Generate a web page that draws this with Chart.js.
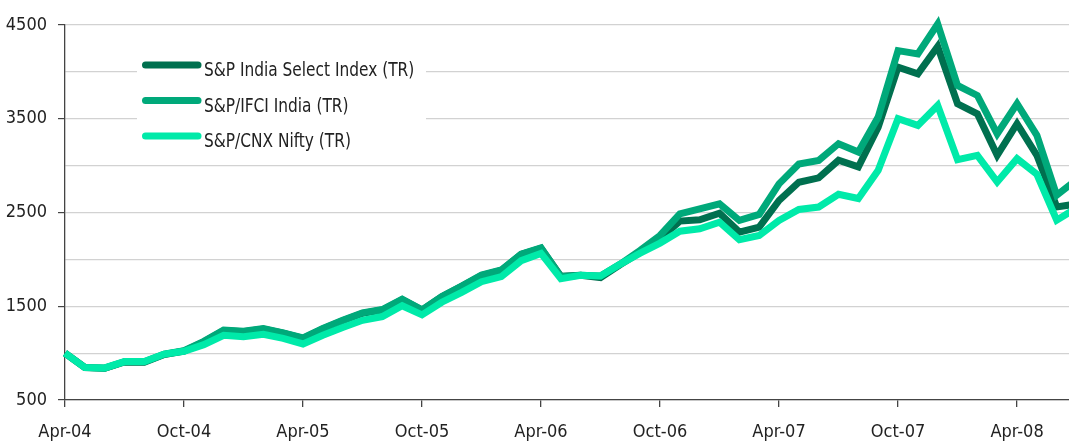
<!DOCTYPE html>
<html><head><meta charset="utf-8">
<script src="https://cdn.jsdelivr.net/npm/chart.js@4.4.1/dist/chart.umd.min.js"></script>
<style>html,body{margin:0;padding:0;background:#fff;overflow:hidden;} #wrap{width:1069px;height:443px;position:relative;}</style>
</head><body><div id="wrap"><canvas id="c"></canvas></div>
<script>
const months = ['Apr-04','May-04','Jun-04','Jul-04','Aug-04','Sep-04','Oct-04','Nov-04','Dec-04','Jan-05','Feb-05','Mar-05',
  'Apr-05','May-05','Jun-05','Jul-05','Aug-05','Sep-05','Oct-05','Nov-05','Dec-05','Jan-06','Feb-06','Mar-06',
  'Apr-06','May-06','Jun-06','Jul-06','Aug-06','Sep-06','Oct-06','Nov-06','Dec-06','Jan-07','Feb-07','Mar-07',
  'Apr-07','May-07','Jun-07','Jul-07','Aug-07','Sep-07','Oct-07','Nov-07','Dec-07','Jan-08','Feb-08','Mar-08',
  'Apr-08','May-08','Jun-08','Jul-08'];
const selectIndex = [1000,845,838,905,903,985,1022,1120,1240,1228,1258,1212,
  1158,1258,1345,1425,1460,1570,1458,1600,1712,1828,1882,2052,
  2118,1820,1830,1805,1945,2075,2220,2408,2422,2493,2291,2344,
  2628,2823,2870,3057,2986,3411,4050,3979,4270,3660,3553,3110,
  3447,3110,2560,2590];
const ifciIndia = [1000,848,840,908,907,988,1025,1125,1245,1234,1262,1216,
  1163,1262,1351,1430,1465,1575,1462,1603,1716,1833,1887,2057,
  2124,1815,1830,1823,1950,2096,2255,2486,2539,2592,2415,2479,
  2805,3018,3055,3234,3145,3518,4227,4192,4511,3855,3748,3340,
  3660,3323,2684,2850];
const cnxNifty = [1000,847,842,910,910,990,1020,1090,1190,1175,1200,1158,
  1098,1190,1273,1350,1390,1505,1408,1543,1649,1762,1816,1986,
  2064,1795,1830,1823,1950,2067,2174,2301,2326,2397,2209,2255,
  2415,2532,2558,2695,2649,2950,3500,3429,3642,3064,3110,2826,
  3074,2908,2418,2548];
const seriesNames = ['S&P India Select Index (TR)','S&P/IFCI India (TR)','S&P/CNX Nifty (TR)'];
const seriesColors = ['#00704f','#00a97a','#00eaa9'];
const yLabelValues = [500,1500,2500,3500,4500];

const FONT = "'Liberation Sans Narrow','Arial Narrow','DejaVu Sans Condensed',Roboto,sans-serif";
Chart.defaults.font.family = FONT;
Chart.defaults.font.size = 18;
Chart.defaults.color = '#222';

const toPts = arr => arr.map((v,i)=>({x:i,y:v}));

const legendBox = {
  id:'legendBox',
  afterDraw(chart){
    const ctx = chart.ctx;
    ctx.save();
    ctx.fillStyle = '#fff';
    ctx.fillRect(137,46,289,114);
    chart.data.datasets.forEach((ds,k)=>{
      const y = 65 + k*35.5;
      ctx.strokeStyle = ds.borderColor;
      ctx.lineWidth = 7;
      ctx.lineCap = 'round';
      ctx.beginPath(); ctx.moveTo(145.5,y); ctx.lineTo(198,y); ctx.stroke();
      ctx.save();
      ctx.fillStyle = '#222';
      ctx.font = "19px " + FONT;
      ctx.textBaseline = 'alphabetic';
      ctx.textAlign = 'left';
      ctx.translate(204, y + 11);
      ctx.scale(0.9, 1);
      ctx.fillText(ds.label, 0, 0);
      ctx.restore();
    });
    ctx.restore();
  }
};

new Chart(document.getElementById('c'), {
  type:'line',
  data:{
    datasets:[
      {label:seriesNames[0], data:toPts(selectIndex), borderColor:seriesColors[0], order:2},
      {label:seriesNames[1], data:toPts(ifciIndia), borderColor:seriesColors[1], order:1},
      {label:seriesNames[2], data:toPts(cnxNifty), borderColor:seriesColors[2], order:0}
    ].map(d=>Object.assign(d,{borderWidth:7, pointRadius:0, tension:0, fill:false, clip:false, borderJoinStyle:'miter'}))
  },
  options:{
    responsive:true, maintainAspectRatio:false, animation:false,
    layout:{padding:{top:25,right:0,left:0,bottom:0}},
    plugins:{legend:{display:false}, tooltip:{enabled:false}},
    scales:{
      x:{
        type:'linear', min:0, max:50.62,
        afterBuildTicks(s){ s.ticks = months.map((m,i)=>({value:i})).filter(t=>t.value%6===0); },
        ticks:{ autoSkip:false, maxRotation:0, padding:15, callback:(v)=>months[v] },
        grid:{ drawOnChartArea:false, drawTicks:true, tickLength:7, tickColor:'#444', lineWidth:1.3 },
        border:{ color:'#444', width:1.3 },
        afterFit(s){ s.height = 43; }
      },
      y:{
        min:500, max:4500,
        ticks:{ stepSize:500, padding:11, callback:(v)=> yLabelValues.includes(v) ? String(v) : '' },
        grid:{ color:'#d2d2d2', lineWidth:1.2, tickLength:7,
          tickColor:(c)=> (c.tick && yLabelValues.includes(c.tick.value)) ? '#444' : 'rgba(0,0,0,0)' },
        border:{ color:'#444', width:1.3 },
        afterFit(s){ s.width = 65; }
      }
    }
  },
  plugins:[legendBox]
});
</script>
</body></html>
